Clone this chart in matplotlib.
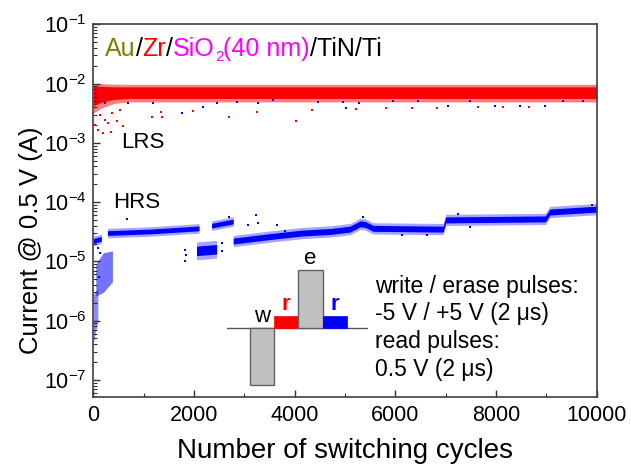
import matplotlib
matplotlib.use('Agg')
import matplotlib.pyplot as plt
import numpy as np
from matplotlib.ticker import MultipleLocator

plt.rcParams['font.family'] = ['Liberation Sans', 'DejaVu Sans']

# ---- data (cycles, current in A) ----
# LRS, red: outer (sparse) and core (dense) limits
lrs_c = [0, 150, 400, 700, 10000]
lrs_lo = [3.2e-3, 3.8e-3, 4.6e-3, 4.9e-3, 4.9e-3]
lrs_hi = [1.0e-2, 1.0e-2, 9.8e-3, 9.7e-3, 9.7e-3]
lrs_core_lo = [4.2e-3, 4.8e-3, 5.4e-3, 5.6e-3, 5.6e-3]
lrs_core_hi = [9.2e-3, 9.0e-3, 8.8e-3, 8.8e-3, 8.8e-3]

# LRS scattered points below the band
lrs_red_c = [34, 100, 133, 199, 232, 298, 352, 365, 465, 530, 596, 1160, 1345, 1371, 1987,
             2702, 3246, 4027, 4350, 5219, 5814, 6325, 6821, 7648, 8146, 8654]
lrs_red_v = [2.0e-3, 1.66e-3, 2.95e-3, 1.48e-3, 2.45e-3, 2.14e-3, 1.55e-3, 3.15e-3, 2.3e-3, 3.6e-3,
             1.93e-3, 2.75e-3, 3.36e-3, 2.7e-3, 3.5e-3, 2.77e-3, 3.36e-3, 2.34e-3, 3.6e-3, 3.73e-3,
             3.93e-3, 3.93e-3, 3.93e-3, 4.07e-3, 4.07e-3, 4.07e-3]
lrs_blue_c = [232, 695, 1192, 1756, 2185, 2451, 2849, 3278, 3576, 4470, 4967, 5020, 5284, 5960,
              6456, 7052, 7483, 7980, 8477, 8973, 9337, 9734]
lrs_blue_v = [4.66e-3, 4.78e-3, 4.78e-3, 3.24e-3, 4.07e-3, 4.66e-3, 4.96e-3, 4.66e-3, 5.28e-3, 4.96e-3,
              4.9e-3, 3.93e-3, 4.66e-3, 5.1e-3, 5.1e-3, 4.26e-3, 5.1e-3, 4.26e-3, 4.26e-3, 4.26e-3,
              5.1e-3, 5.1e-3]

# HRS, blue: early tail and blob (limits)
hrs_tail_c = [0, 90]
hrs_tail_lo = [4.2e-7, 1.0e-6]
hrs_tail_hi = [2.8e-6, 3.5e-6]
hrs_blob_c = [50, 200, 380]
hrs_blob_lo = [2.6e-6, 3.0e-6, 4.5e-6]
hrs_blob_hi = [9.0e-6, 1.4e-5, 1.5e-5]
# HRS segments given by their middle value
hrs_start_c = [0, 160]
hrs_start_mid = [2.2e-5, 2.4e-5]
hrs_b1_c = [280, 1160, 2100]
hrs_b1_mid = [3.0e-5, 3.2e-5, 3.6e-5]
hrs_dip_c = [2050, 2450]
hrs_dip_mid = [1.5e-5, 1.6e-5]
hrs_jump_c = [2350, 2780]
hrs_jump_mid = [4.0e-5, 4.7e-5]
hrs_b2_c = [2780, 3480, 4140, 4720, 5100, 5300, 5400, 5560, 6950, 7000, 8980, 9070, 10000]
hrs_b2_mid = [2.2e-5, 2.6e-5, 3.0e-5, 3.2e-5, 3.5e-5, 4.3e-5, 4.2e-5, 3.6e-5, 3.5e-5,
              5.0e-5, 5.2e-5, 6.8e-5, 7.6e-5]
# HRS scattered points
hrs_out_c = [100, 133, 120, 663, 1822, 1835, 1822, 2550, 2563, 2702, 3080, 3232, 3278, 3643,
             3808, 5351, 6126, 6620, 7251, 7483, 9900]
hrs_out_v = [1.66e-5, 1.37e-5, 5.5e-6, 5.2e-5, 1.56e-5, 1.29e-5, 1.03e-5, 2.04e-5, 1.5e-5, 5.7e-5,
             4.12e-5, 6.1e-5, 4.4e-5, 4.12e-5, 3.2e-5, 5.7e-5, 2.8e-5, 2.8e-5, 6.3e-5, 3.8e-5, 8.9e-5]

# pulse scheme (schematic heights)
pulse_names = ['w', 'r', 'e', 'r']
pulse_levels = [-5, 1, 5, 1]
pulse_colors = ['#c0c0c0', '#ff0000', '#c0c0c0', '#0000ff']
pulse_label_colors = ['k', '#ff0000', 'k', '#0000ff']

RED = '#ff0000'
BLUE = '#0000ff'


def band(ax, c, lo, hi, color, alpha=1.0):
    ax.fill_between(c, lo, hi, color=color, alpha=alpha, lw=0)


def mid_band(ax, c, mid, hw_core, hw_out, color):
    mid = np.array(mid)
    band(ax, c, mid * 10 ** -hw_out, mid * 10 ** hw_out, color, 0.35)
    band(ax, c, mid * 10 ** -hw_core, mid * 10 ** hw_core, color)


fig = plt.figure(figsize=(6.31, 4.70), dpi=100)
ax = fig.add_axes([93.3 / 631, 1 - 396.7 / 470, 503.4 / 631, 372.4 / 470])
ax.set_yscale('log')

# HRS
band(ax, hrs_tail_c, hrs_tail_lo, hrs_tail_hi, BLUE, 0.45)
band(ax, hrs_blob_c, hrs_blob_lo, hrs_blob_hi, BLUE, 0.55)
mid_band(ax, hrs_start_c, hrs_start_mid, 0.04, 0.08, BLUE)
mid_band(ax, hrs_b1_c, hrs_b1_mid, 0.04, 0.08, BLUE)
mid_band(ax, hrs_dip_c, hrs_dip_mid, 0.08, 0.15, BLUE)
mid_band(ax, hrs_jump_c, hrs_jump_mid, 0.04, 0.08, BLUE)
mid_band(ax, hrs_b2_c, hrs_b2_mid, 0.05, 0.095, BLUE)
ax.plot(hrs_out_c, hrs_out_v, 's', color=BLUE, ms=2, mew=0)

# LRS
band(ax, lrs_c, lrs_lo, lrs_hi, RED, 0.5)
band(ax, lrs_c, lrs_core_lo, lrs_core_hi, RED)
ax.plot(lrs_red_c, lrs_red_v, 's', color=RED, ms=2, mew=0)
ax.plot(lrs_blue_c, lrs_blue_v, 's', color=BLUE, ms=2, mew=0)

ax.set_xlim(0, 10000)
ax.set_ylim(5.2e-8, 1e-1)
ax.xaxis.set_major_locator(MultipleLocator(2000))
ax.xaxis.set_minor_locator(MultipleLocator(1000))
ax.tick_params(which='both', direction='in', top=False, right=False, colors='#303030',
               labelcolor='k', labelsize=15.5)
ax.tick_params(which='major', length=5, width=1)
ax.tick_params(which='minor', length=3, width=0.8)
ax.tick_params(axis='x', pad=6)
ax.tick_params(axis='y', pad=5)
for s in ax.spines.values():
    s.set_color('#404040')
    s.set_linewidth(1.2)

ax.set_xlabel('Number of switching cycles', fontsize=20)
ax.xaxis.set_label_coords(0.5, -0.11)
ax.set_ylabel('Current @ 0.5 V (A)', fontsize=18.5)
ax.yaxis.set_label_coords(-0.1, 0.42)

ax.text(550, 8.1e-4, 'LRS', fontsize=16, va='baseline')
ax.text(385, 7.9e-5, 'HRS', fontsize=16, va='baseline')

# stack layer label, coloured piece by piece
fs = 18
t = ax.text(0.023, 0.915, 'Au', transform=ax.transAxes, color='#808000', fontsize=fs, va='baseline')
t = ax.annotate('/', xy=(1, 0), xycoords=t, va='bottom', fontsize=fs, color='k')
t = ax.annotate('Zr', xy=(1, 0), xycoords=t, va='bottom', fontsize=fs, color=RED)
t = ax.annotate('/', xy=(1, 0), xycoords=t, va='bottom', fontsize=fs, color='k')
sio = ax.annotate('SiO', xy=(1, 0), xycoords=t, va='bottom', fontsize=fs, color='#ff00ff')
sub = ax.annotate('2', xy=(1, 0), xycoords=sio, va='bottom', fontsize=11, color='#ff00ff',
                  xytext=(0, -2), textcoords='offset points')
t = ax.annotate('(40 nm)', xy=(1, 0), xycoords=(sub, sio), va='bottom', fontsize=fs, color='#ff00ff')
t = ax.annotate('/TiN/Ti', xy=(1, 0), xycoords=t, va='bottom', fontsize=fs, color='k')

# pulse text
lines = ['write / erase pulses:', '-5 V / +5 V (2 \u03bcs)', 'read pulses:', '0.5 V (2 \u03bcs)']
for ln, yy in zip(lines, [0.2954, 0.224, 0.1477, 0.0717]):
    ax.text(0.5596, yy, ln, transform=ax.transAxes, fontsize=16.5, va='center')

# pulse scheme inset
ax_in = fig.add_axes([226.7 / 631, 1 - 385 / 470, 141.6 / 631, 115 / 470])
ax_in.axhline(0, color='#555555', lw=1, zorder=0)
bars = ax_in.bar(range(len(pulse_levels)), pulse_levels, width=1, align='edge',
                 color=pulse_colors, clip_on=False, zorder=2)
for b, col in zip(bars, pulse_colors):
    if col == '#c0c0c0':
        b.set_edgecolor('#606060')
        b.set_linewidth(1)
    else:
        b.set_edgecolor(col)
        b.set_linewidth(0.5)
for i, (nm, lv, lc) in enumerate(zip(pulse_names, pulse_levels, pulse_label_colors)):
    ax_in.annotate(nm, xy=(i + 0.5, max(lv, 0)), xytext=(0, 4), textcoords='offset points',
                   ha='center', va='baseline', fontsize=16, color=lc,
                   fontweight='bold' if nm == 'r' else 'normal', annotation_clip=False)
ax_in.set_xlim(-0.96, 4.89)
ax_in.set_ylim(-5, 5)
ax_in.axis('off')

fig.savefig('out.png', dpi=100)
